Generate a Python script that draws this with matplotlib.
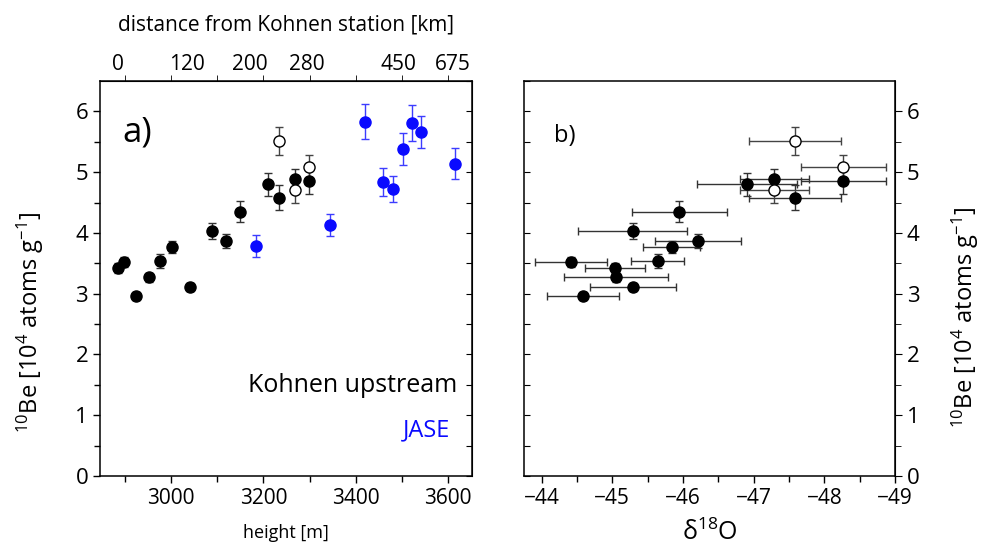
import numpy as np
import matplotlib
matplotlib.use("Agg")
import matplotlib.pyplot as plt

plt.rcParams['font.family'] = ['Open Sans', 'DejaVu Sans']
plt.rcParams['mathtext.fontset'] = 'custom'
plt.rcParams['mathtext.rm'] = 'Open Sans'
plt.rcParams['mathtext.default'] = 'rm'

# Kohnen upstream samples (filled)
k_height = [2886, 2898, 2923, 2952, 2977, 3003, 3042, 3088, 3118, 3149, 3209, 3234, 3268, 3298]
k_be = [3.42, 3.52, 2.96, 3.27, 3.54, 3.77, 3.11, 4.03, 3.87, 4.35, 4.80, 4.58, 4.89, 4.85]
k_be_err = [0.08, 0.08, 0.07, 0.07, 0.12, 0.10, 0.07, 0.13, 0.12, 0.17, 0.19, 0.21, 0.17, 0.21]
k_d18o = [-45.04, -44.41, -44.58, -45.05, -45.64, -45.84, -45.29, -45.29, -46.21, -45.95,
          -46.91, -47.58, -47.29, -48.27]
k_d18o_err = [0.42, 0.51, 0.51, 0.74, 0.38, 0.40, 0.61, 0.77, 0.61, 0.67, 0.71, 0.65, 0.49, 0.60]

# Kohnen upstream samples (open)
o_height = [3234, 3268, 3298]
o_be = [5.51, 4.70, 5.08]
o_be_err = [0.23, 0.21, 0.20]
o_d18o = [-47.58, -47.29, -48.27]
o_d18o_err = [0.65, 0.49, 0.60]

# JASE samples
j_height = [3185, 3344, 3420, 3460, 3481, 3503, 3523, 3542, 3615]
j_be = [3.79, 4.13, 5.83, 4.84, 4.72, 5.38, 5.81, 5.66, 5.14]
j_be_err = [0.18, 0.18, 0.29, 0.23, 0.21, 0.26, 0.30, 0.26, 0.26]

# top axis: distance from Kohnen station
dist_pos = [2885, 3034, 3171, 3295, 3492, 3611]
dist_labels = ['0', '120', '200', '280', '450', '675']

ylab = r'$^{10}$Be [10$^{4}$ atoms g$^{-1}$]'
blue = '#0a0aff'

fig = plt.figure(figsize=(9.85, 5.48), dpi=100)
ax1 = fig.add_axes([0.1015, 0.1314, 0.3777, 0.7208])
ax2 = fig.add_axes([0.532, 0.1314, 0.3766, 0.7208])

# ---- panel a
ax1.errorbar(k_height, k_be, yerr=k_be_err, fmt='o', ms=8, color='black', ecolor='#333333',
             elinewidth=1, capsize=3, capthick=1)
ax1.errorbar(o_height, o_be, yerr=o_be_err, fmt='o', ms=8, mfc='white', mec='black',
             ecolor='#444444', elinewidth=1, capsize=3, capthick=1)
ax1.errorbar(j_height, j_be, yerr=j_be_err, fmt='o', ms=8, color=blue, ecolor='#3c3cff',
             elinewidth=1, capsize=3, capthick=1)
ax1.set_xlim(2846, 3652)
ax1.set_ylim(0, 6.5)
ax1.set_xticks([3000, 3200, 3400, 3600])
ax1.set_xticks(np.arange(2900, 3700, 200), minor=True)
ax1.set_yticks(range(7))
ax1.set_yticks(np.arange(0.5, 6.5, 1), minor=True)
ax1.tick_params(direction='out', labelsize=15, length=5, width=1)
ax1.tick_params(which='minor', direction='out', length=4, width=1)
ax1.set_xlabel('height [m]', fontsize=13, labelpad=11)
ax1.text(0.06, 0.87, 'a)', transform=ax1.transAxes, fontsize=25, va='center')
ax1.text(0.96, 0.23, 'Kohnen upstream', transform=ax1.transAxes, fontsize=18,
         ha='right', va='center')
ax1.text(0.94, 0.116, 'JASE', transform=ax1.transAxes, fontsize=17, color=blue,
         ha='right', va='center')

ra = ax1.secondary_yaxis('right')
ra.set_yticks(np.arange(0, 6.6, 0.5))
ra.tick_params(direction='in', length=4, labelright=False)

ta = ax1.secondary_xaxis('top')
ta.set_xticks(dist_pos)
ta.set_xticklabels(dist_labels)
ta.set_xticks(np.arange(2900, 3700, 100), minor=True)
ta.tick_params(which='major', length=0, labelsize=15, pad=4)
ta.tick_params(which='minor', direction='out', length=4)
ta.set_xlabel('distance from Kohnen station [km]', fontsize=15, labelpad=17)

# ---- panel b
ax2.errorbar(k_d18o, k_be, xerr=k_d18o_err, yerr=k_be_err, fmt='o', ms=8, color='black',
             ecolor='#333333', elinewidth=1, capsize=3, capthick=1)
ax2.errorbar(o_d18o, o_be, xerr=o_d18o_err, yerr=o_be_err, fmt='o', ms=8, mfc='white',
             mec='black', ecolor='#444444', elinewidth=1, capsize=3, capthick=1)
ax2.set_xlim(-43.75, -49)
ax2.set_ylim(0, 6.5)
ax2.set_xticks(range(-44, -50, -1))
ax2.set_xticks(np.arange(-44.5, -49, -1), minor=True)
ax2.set_yticks(np.arange(0, 6.6, 0.5))
ax2.tick_params(axis='x', which='both', direction='out', labelsize=15, width=1)
ax2.tick_params(axis='x', which='major', length=5)
ax2.tick_params(axis='x', which='minor', length=4)
ax2.tick_params(axis='y', direction='in', length=4, labelleft=False)
ax2.set_xlabel(r'δ$^{18}$O', fontsize=18, labelpad=8)
ax2.text(0.08, 0.86, 'b)', transform=ax2.transAxes, fontsize=17, va='center')

rb = ax2.secondary_yaxis('right')
rb.set_yticks(range(7))
rb.set_yticks(np.arange(0.5, 6.5, 1), minor=True)
rb.tick_params(direction='out', length=5, labelsize=16)
rb.tick_params(which='minor', direction='out', length=4)

for a in (ax1, ax2):
    for s in a.spines.values():
        s.set_linewidth(1.1)
    a.tick_params(axis='y', labelsize=16)

# y labels of both panels
fig.text(30 / 985, 1 - 322 / 548, ylab, rotation=90, fontsize=17, ha='center', va='center')
fig.text(965 / 985, 1 - 317 / 548, ylab, rotation=90, fontsize=17, ha='center', va='center')

fig.savefig('out.png', dpi=100)
